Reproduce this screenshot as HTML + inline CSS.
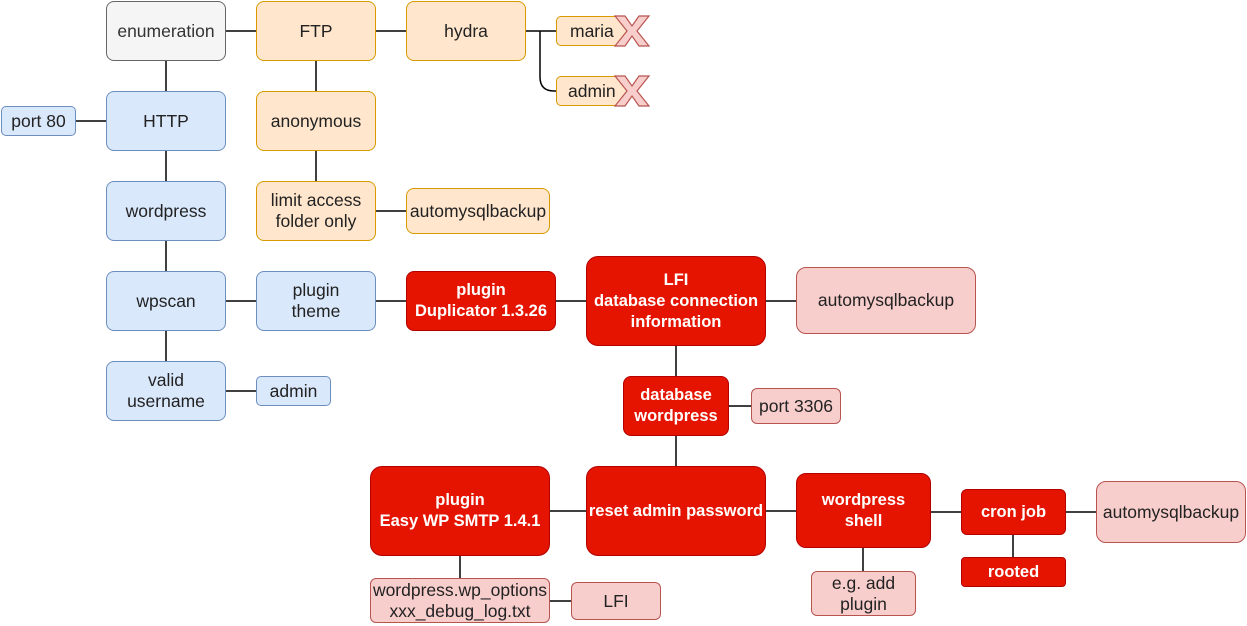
<!DOCTYPE html>
<html><head><style>
body{margin:0;width:1247px;height:626px;background:#fff;position:relative;overflow:hidden;font-family:"Liberation Sans",sans-serif;}
.n{position:absolute;box-sizing:border-box;display:flex;align-items:center;justify-content:center;text-align:center;font-size:17.5px;line-height:21px;border-radius:8px;color:#222;white-space:nowrap}
.g{background:#f5f5f5;border:1px solid #666;color:#333}
.o{background:#ffe6cc;border:1px solid #d79b00}
.b{background:#dae8fc;border:1px solid #6c8ebf}
.r{background:#e51400;border:1px solid #b20000;color:#fff;font-weight:bold;font-size:16.5px}
.p{background:#f8cecc;border:1px solid #b85450}
svg{position:absolute;left:0;top:0}
</style></head><body>
<svg width="1247" height="626">
<g stroke="#000" stroke-width="1.5" fill="none">
<path d="M226 31H256M376 31H406M526 31H540M540 31V77Q540 91 554 91H556M526 31H556"/>
<path d="M166 61V91M76 121H106M166 151V181M166 241V271M166 331V361M226 301H256M376 301H406M556 301H586M766 301H796M316 61V91M316 151V181M376 211H406M226 391H256"/>
<path d="M676 346V376M729 406H751M676 436V466M550 511H586M766 511H796M931 512H961M1066 512H1096M1013 535V557M863 548V571M460 556V578M550 601H571"/>
</g>
</svg>
<div class="n g" style="left:106px;top:1px;width:120px;height:60px">enumeration</div>
<div class="n o" style="left:256px;top:1px;width:120px;height:60px">FTP</div>
<div class="n o" style="left:406px;top:1px;width:120px;height:60px">hydra</div>
<div class="n o" style="left:556px;top:16px;width:72px;height:30px;border-radius:5px;justify-content:flex-start;padding-left:13px">maria</div>
<div class="n o" style="left:556px;top:76px;width:72px;height:30px;border-radius:5px;justify-content:flex-start;padding-left:11px">admin</div>
<div class="n b" style="left:106px;top:91px;width:120px;height:60px">HTTP</div>
<div class="n b" style="left:1px;top:106px;width:75px;height:30px;border-radius:5px">port 80</div>
<div class="n o" style="left:256px;top:91px;width:120px;height:60px">anonymous</div>
<div class="n b" style="left:106px;top:181px;width:120px;height:60px">wordpress</div>
<div class="n o" style="left:256px;top:181px;width:120px;height:60px">limit access<br>folder only</div>
<div class="n o" style="left:406px;top:188px;width:144px;height:46px">automysqlbackup</div>
<div class="n b" style="left:106px;top:271px;width:120px;height:60px">wpscan</div>
<div class="n b" style="left:256px;top:271px;width:120px;height:60px">plugin<br>theme</div>
<div class="n r" style="left:406px;top:271px;width:150px;height:60px">plugin<br>Duplicator 1.3.26</div>
<div class="n r" style="left:586px;top:256px;width:180px;height:90px;border-radius:12px">LFI<br>database connection<br>information</div>
<div class="n p" style="left:796px;top:267px;width:180px;height:67px;border-radius:10px">automysqlbackup</div>
<div class="n b" style="left:106px;top:361px;width:120px;height:60px">valid<br>username</div>
<div class="n b" style="left:256px;top:376px;width:75px;height:30px;border-radius:5px">admin</div>
<div class="n r" style="left:623px;top:376px;width:106px;height:60px">database<br>wordpress</div>
<div class="n p" style="left:751px;top:388px;width:90px;height:36px;border-radius:6px">port 3306</div>
<div class="n r" style="left:370px;top:466px;width:180px;height:90px;border-radius:12px">plugin<br>Easy WP SMTP 1.4.1</div>
<div class="n r" style="left:586px;top:466px;width:180px;height:90px;border-radius:12px">reset admin password</div>
<div class="n r" style="left:796px;top:473px;width:135px;height:75px;border-radius:10px">wordpress<br>shell</div>
<div class="n r" style="left:961px;top:489px;width:105px;height:46px;border-radius:6px">cron job</div>
<div class="n p" style="left:1096px;top:481px;width:150px;height:62px;border-radius:10px">automysqlbackup</div>
<div class="n r" style="left:961px;top:557px;width:105px;height:30px;border-radius:4px">rooted</div>
<div class="n p" style="left:811px;top:571px;width:105px;height:45px;border-radius:6px">e.g. add<br>plugin</div>
<div class="n p" style="left:370px;top:578px;width:180px;height:45px;border-radius:6px">wordpress.wp_options<br>xxx_debug_log.txt</div>
<div class="n p" style="left:571px;top:582px;width:90px;height:38px;border-radius:6px">LFI</div>
<svg width="1247" height="626">
<g fill="#f8cecc" stroke="#b85450" stroke-width="1.2">
<path d="M615 16h10l7 10 7-10h10l-12 15 12 15h-10l-7-10-7 10h-10l12-15z"/>
<path d="M615 76h10l7 10 7-10h10l-12 15 12 15h-10l-7-10-7 10h-10l12-15z"/>
</g>
</svg>
</body></html>
